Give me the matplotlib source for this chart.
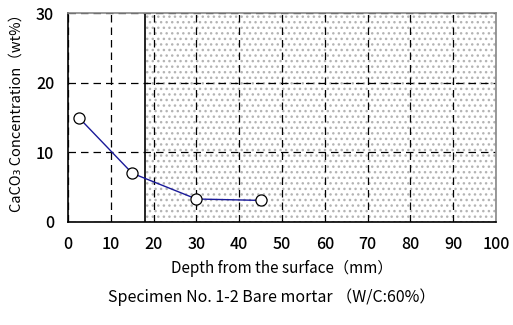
import matplotlib
matplotlib.use("Agg")
import matplotlib.pyplot as plt

plt.rcParams['font.family'] = ['Noto Sans CJK JP', 'DejaVu Sans']
plt.rcParams['hatch.linewidth'] = 1.0

depth = [2.5, 15, 30, 45]
caco3 = [15.0, 7.0, 3.3, 3.1]
xticks = [0, 10, 20, 30, 40, 50, 60, 70, 80, 90, 100]
yticks = [0, 10, 20, 30]
shade_start = 18

fig = plt.figure(figsize=(5.13, 3.25), dpi=100)
ax = fig.add_axes([68/513, 1-222/325, (496-68)/513, (222-13)/325])
ax.set_xlim(0, 100)
ax.set_ylim(0, 30)

ax.axvspan(shade_start, 100, facecolor='white', edgecolor='#b4b4b4', hatch='...', linewidth=0, zorder=0)
ax.set_xticks(xticks)
ax.set_yticks(yticks)
ax.grid(True, color='black', linestyle=(0, (6, 4)), linewidth=0.9, zorder=1)
ax.set_axisbelow(True)
ax.axvline(shade_start, color='black', linewidth=1.2, zorder=2)

ax.plot(depth, caco3, color='#1a1a99', linewidth=1.0, marker='o', markersize=8,
        markerfacecolor='white', markeredgecolor='black', markeredgewidth=0.9, zorder=3)

ax.tick_params(length=0, labelsize=11.5, pad=10)
for lab in ax.get_xticklabels() + ax.get_yticklabels():
    lab.set_fontweight('medium')
for s in ['left', 'bottom']:
    ax.spines[s].set_color('black')
    ax.spines[s].set_linewidth(1.2)
for s in ['top', 'right']:
    ax.spines[s].set_color('#888888')
    ax.spines[s].set_linewidth(1.2)

ax.set_ylabel('CaCO₃ Concentration（wt%）', fontsize=10.5)
ax.yaxis.set_label_coords(-0.103, 0.54)
ax.set_xlabel('Depth from the surface（mm）', fontsize=11, labelpad=5)
fig.text(272/513, 1-297/325, 'Specimen No. 1-2 Bare mortar （W/C:60%）', fontsize=11.5,
         ha='center', va='center')

fig.savefig('out.png', dpi=100)
